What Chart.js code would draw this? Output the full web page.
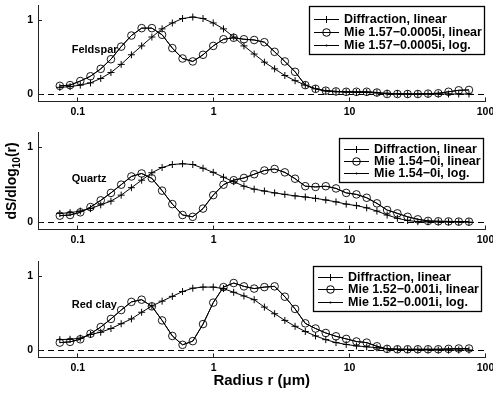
<!DOCTYPE html>
<html>
<head>
<meta charset="utf-8">
<script src="https://cdn.jsdelivr.net/npm/chart.js@4.4.1/dist/chart.umd.min.js"></script>
<style>
  html, body { margin: 0; padding: 0; background: #fff; }
  #wrap { position: relative; width: 493px; height: 394px; overflow: hidden; }
  canvas { position: absolute; left: 0; }
</style>
</head>
<body>
<div id="wrap">
  <canvas id="feldspar" width="493" height="125" style="top:0px"></canvas>
  <canvas id="quartz" width="493" height="125" style="top:125px"></canvas>
  <canvas id="redclay" width="493" height="144" style="top:250px"></canvas>
</div>
<script>
// ** Radius bins (um), quarter-octave steps
const radius = [
  0.0738, 0.0878, 0.1044, 0.1241, 0.1476, 0.1755, 0.2087, 0.2482, 0.2952, 0.3511,
  0.4175, 0.4965, 0.5904, 0.7021, 0.8350, 0.9930, 1.181, 1.404, 1.670, 1.986,
  2.362, 2.809, 3.340, 3.972, 4.723, 5.617, 6.680, 7.944, 9.446, 11.23,
  13.36, 15.89, 18.89, 22.47, 26.72, 31.77, 37.79, 44.94, 53.44, 63.55, 75.57
]
const xTicks = [0.1, 1, 10, 100]
const yTicks = [0, 1]

// ** Feldspar
const feldsparDiffraction = [
  0.09, 0.10, 0.12, 0.15, 0.21, 0.29, 0.40, 0.53, 0.65, 0.77,
  0.88, 0.96, 1.02, 1.04, 1.02, 0.96, 0.88, 0.77, 0.65, 0.54,
  0.43, 0.34, 0.25, 0.18, 0.12, 0.07, 0.04, 0.03, 0.025, 0.02,
  0.02, 0.015, 0.01, 0.005, 0, 0, 0, 0, 0, 0, 0
]
const feldsparMieLinear = [
  0.11, 0.12, 0.175, 0.24, 0.34, 0.47, 0.64, 0.79, 0.89, 0.89,
  0.80, 0.62, 0.48, 0.44, 0.53, 0.65, 0.74, 0.76, 0.74, 0.73,
  0.70, 0.57, 0.44, 0.30, 0.12, 0.07, 0.045, 0.035, 0.03, 0.03,
  0.03, 0.02, 0.0, 0.0, 0.0, 0.0, 0.005, 0.01, 0.03, 0.05, 0.055
]
// log. fit lies right under the linear one in the picture
const feldsparMieLog = feldsparMieLinear

// ** Quartz
const quartzDiffraction = [
  0.115, 0.125, 0.147, 0.18, 0.23, 0.28, 0.36, 0.46, 0.56, 0.66,
  0.73, 0.77, 0.78, 0.77, 0.72, 0.665, 0.60, 0.54, 0.48, 0.44,
  0.415, 0.39, 0.37, 0.35, 0.335, 0.317, 0.295, 0.27, 0.24, 0.22,
  0.19, 0.147, 0.094, 0.05, 0.02, 0.005, 0.003, 0.002, 0.001, 0, 0
]
const quartzMieLinear = [
  0.085, 0.094, 0.13, 0.20, 0.29, 0.39, 0.50, 0.61, 0.65, 0.585,
  0.42, 0.24, 0.094, 0.07, 0.18, 0.36, 0.50, 0.56, 0.59, 0.64,
  0.69, 0.71, 0.665, 0.58, 0.48, 0.47, 0.48, 0.45, 0.39, 0.37,
  0.325, 0.25, 0.16, 0.116, 0.07, 0.036, 0.015, 0.01, 0.008, 0.006, 0.005
]
const quartzMieLog = quartzMieLinear

// ** Red clay
const redclayDiffraction = [
  0.14, 0.145, 0.16, 0.21, 0.24, 0.29, 0.355, 0.42, 0.51, 0.595,
  0.66, 0.725, 0.79, 0.835, 0.85, 0.85, 0.83, 0.78, 0.73, 0.68,
  0.58, 0.49, 0.40, 0.32, 0.25, 0.19, 0.14, 0.10, 0.075, 0.055,
  0.043, 0.03, 0.015, 0.01, 0.005, 0.003, 0.002, 0.001, 0, 0, 0
]
const redclayMieLinear = [
  0.10, 0.11, 0.145, 0.22, 0.31, 0.42, 0.54, 0.65, 0.68, 0.59,
  0.40, 0.19, 0.07, 0.12, 0.35, 0.64, 0.85, 0.905, 0.86, 0.83,
  0.85, 0.86, 0.72, 0.555, 0.36, 0.29, 0.23, 0.185, 0.15, 0.115,
  0.10, 0.05, 0.015, 0.01, 0.01, 0.01, 0.01, 0.01, 0.015, 0.02, 0.02
]
const redclayMieLog = redclayMieLinear

const FONT = '"Liberation Sans", Arial, Helvetica, sans-serif'

const toPoints = vals => radius.map((r, i) => ({ x: r, y: vals[i] }))

const drawMarker = (ctx, style, r, x, y) => {
  ctx.beginPath()
  if (style === 'cross') {
    ctx.moveTo(x - r, y); ctx.lineTo(x + r, y)
    ctx.moveTo(x, y - r); ctx.lineTo(x, y + r)
    ctx.stroke()
  } else {
    ctx.arc(x, y, r, 0, Math.PI * 2)
    if (r < 2) ctx.fill()
    else ctx.stroke()
  }
}

// ** Dashed zero line, sample name, inward ticks, boxed legend, axis titles
const panelDecor = {
  id: 'panelDecor',
  beforeDatasetsDraw(chart, args, o) {
    const { ctx, chartArea: a, scales: { x, y } } = chart
    const y0 = Math.round(y.getPixelForValue(0)) + 0.5
    ctx.save()
    ctx.strokeStyle = '#000'
    ctx.lineWidth = 1
    ctx.setLineDash([6, 4])
    ctx.beginPath()
    ctx.moveTo(a.left, y0)
    ctx.lineTo(a.right, y0)
    ctx.stroke()
    ctx.setLineDash([])
    ctx.fillStyle = '#000'
    ctx.font = 'bold 11px ' + FONT
    ctx.textBaseline = 'middle'
    ctx.fillText(o.name, x.getPixelForValue(o.nameX), y.getPixelForValue(o.nameY))
    ctx.restore()
  },
  afterDraw(chart, args, o) {
    const { ctx, chartArea: a, scales: { x, y } } = chart
    ctx.save()
    ctx.strokeStyle = '#222'
    ctx.lineWidth = 1
    ctx.beginPath()
    xTicks.forEach(v => {
      const px = Math.round(x.getPixelForValue(v)) - 0.5
      ctx.moveTo(px, a.bottom)
      ctx.lineTo(px, a.bottom - 4)
    })
    yTicks.forEach(v => {
      const py = Math.round(y.getPixelForValue(v)) + 0.5
      ctx.moveTo(a.left, py)
      ctx.lineTo(a.left + 4, py)
    })
    ctx.stroke()

    // legend, in series order
    const lg = o.legend
    const sets = chart.data.datasets.slice().sort((p, q) => p.seriesIndex - q.seriesIndex)
    ctx.font = 'bold 12.5px ' + FONT
    const tw = Math.max(...sets.map(d => ctx.measureText(d.label).width))
    const w = Math.round(34.5 + tw + 3)
    const bx = Math.round(a.right - lg.right - w) + 0.5
    const by = Math.round(a.top + lg.top) + 0.5
    ctx.fillStyle = '#fff'
    ctx.fillRect(bx, by, w, lg.h)
    ctx.strokeStyle = '#000'
    ctx.lineWidth = 1.3
    ctx.strokeRect(bx, by, w, lg.h)
    ctx.lineWidth = 1
    sets.forEach((d, i) => {
      const cy = Math.round(by + lg.first + i * lg.row) + 0.5
      ctx.strokeStyle = '#000'
      ctx.fillStyle = '#000'
      ctx.beginPath()
      ctx.moveTo(bx + 4.5, cy)
      ctx.lineTo(bx + 29.5, cy)
      ctx.stroke()
      drawMarker(ctx, d.pointStyle, d.legendRadius, bx + 17, cy)
      ctx.textBaseline = 'middle'
      ctx.fillText(d.label, bx + 34.5, cy + 0.5)
    })

    // y axis title with subscript
    if (o.yTitle) {
      const cx = 16
      const cy = (a.top + a.bottom) / 2
      ctx.translate(cx, cy)
      ctx.rotate(-Math.PI / 2)
      ctx.fillStyle = '#000'
      ctx.textBaseline = 'alphabetic'
      const big = 'bold 14px ' + FONT
      const small = 'bold 10px ' + FONT
      ctx.font = big
      const w1 = ctx.measureText('dS/dlog').width
      const w3 = ctx.measureText('(r)').width
      ctx.font = small
      const w2 = ctx.measureText('10').width
      let sx = -(w1 + w2 + w3) / 2
      ctx.font = big
      ctx.fillText('dS/dlog', sx, 0)
      sx += w1
      ctx.font = small
      ctx.fillText('10', sx, 4)
      sx += w2
      ctx.font = big
      ctx.fillText('(r)', sx, 0)
    }
    ctx.restore()
  }
}

const makePanel = (id, labels, series, cfg) => {
  const styles = [
    { pointStyle: 'cross', pointRadius: 3.5, legendRadius: 3.5, pointBorderWidth: 1 },
    { pointStyle: 'circle', pointRadius: 3.8, legendRadius: 3.8, pointBorderWidth: 0.9, pointBackgroundColor: 'rgba(0,0,0,0)' },
    // its dots sit inside the circles and do not show in the picture
    { pointStyle: 'circle', pointRadius: 0, legendRadius: 1, pointBorderWidth: 0, pointBackgroundColor: '#000' }
  ]
  return new Chart(document.getElementById(id), {
    type: 'line',
    data: {
      datasets: series.map((vals, i) => ({
        label: labels[i],
        seriesIndex: i,
        order: 2 - i,
        data: toPoints(vals),
        borderColor: '#000',
        borderWidth: 1,
        pointBorderColor: '#000',
        tension: 0,
        ...styles[i]
      }))
    },
    options: {
      responsive: false,
      animation: false,
      events: [],
      layout: { autoPadding: false, padding: { top: cfg.padTop, right: 7.5, left: 0, bottom: 0 } },
      plugins: {
        legend: { display: false },
        tooltip: { enabled: false },
        panelDecor: cfg
      },
      scales: {
        x: {
          type: 'logarithmic',
          min: 0.051,
          max: 100,
          afterBuildTicks: s => { s.ticks = xTicks.map(v => ({ value: v })) },
          afterFit: s => { s.height = cfg.axisH; s.paddingLeft = 0; s.paddingRight = 0 },
          ticks: {
            autoSkip: false,
            maxRotation: 0,
            color: '#000',
            padding: 4,
            font: { family: FONT, size: 10.5, weight: 'bold' },
            callback: v => String(v)
          },
          grid: { display: false, drawTicks: false },
          border: { display: true, color: '#222', width: 1 },
          title: {
            display: !!cfg.xTitle,
            text: cfg.xTitle || '',
            color: '#000',
            font: { family: FONT, size: 15, weight: 'bold' },
            padding: { top: 0, bottom: 4 }
          }
        },
        y: {
          min: -0.1,
          max: 1.2,
          afterBuildTicks: s => { s.ticks = yTicks.map(v => ({ value: v })) },
          afterFit: s => { s.width = 38; s.paddingTop = 0; s.paddingBottom = 0 },
          ticks: {
            color: '#000',
            padding: 5,
            font: { family: FONT, size: 10.5, weight: 'bold' },
            callback: v => String(v)
          },
          grid: { display: false, drawTicks: false },
          border: { display: true, color: '#222', width: 1 }
        }
      }
    },
    plugins: [panelDecor]
  })
}

makePanel('feldspar',
  ['Diffraction, linear', 'Mie 1.57\u22120.0005i, linear', 'Mie 1.57\u22120.0005i, log.'],
  [feldsparDiffraction, feldsparMieLinear, feldsparMieLog],
  { padTop: 5.2, axisH: 23.6, name: 'Feldspar', nameX: 0.0903, nameY: 0.59,
    legend: { right: 1.5, top: 0.5, h: 48, first: 12.5, row: 13 } })

makePanel('quartz',
  ['Diffraction, linear', 'Mie 1.54\u22120i, linear', 'Mie 1.54\u22120i, log.'],
  [quartzDiffraction, quartzMieLinear, quartzMieLog],
  { padTop: 7.4, axisH: 20.5, name: 'Quartz', nameX: 0.0903, nameY: 0.58, yTitle: true,
    legend: { right: 2.5, top: 5.6, h: 44, first: 10, row: 12 } })

makePanel('redclay',
  ['Diffraction, linear', 'Mie 1.52\u22120.001i, linear', 'Mie 1.52\u22120.001i, log.'],
  [redclayDiffraction, redclayMieLinear, redclayMieLog],
  { padTop: 11.2, axisH: 36.6, name: 'Red clay', nameX: 0.0903, nameY: 0.61, xTitle: 'Radius r (\u03bcm)',
    legend: { right: 4.5, top: 4.8, h: 45, first: 10, row: 12.5 } })
</script>
</body>
</html>
